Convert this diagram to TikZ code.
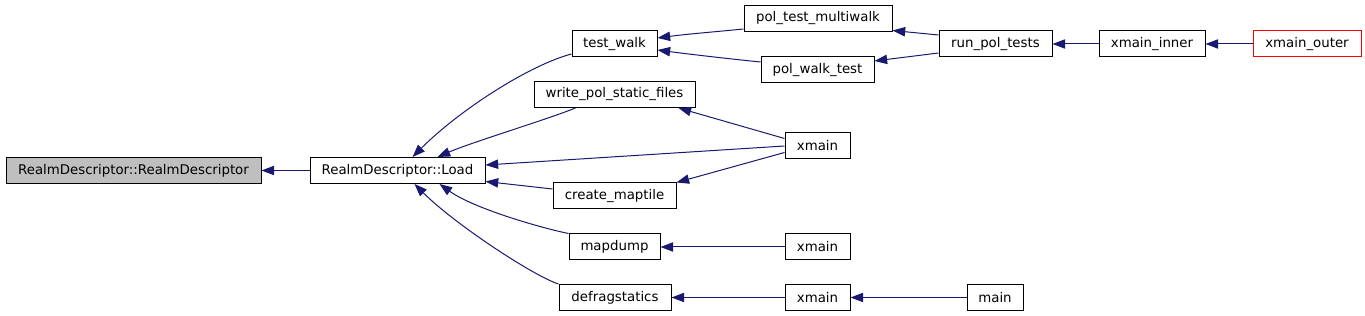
\documentclass[tikz,border=0pt]{standalone}
\usepackage{fontspec}
\setmainfont{DejaVu Sans}
\usetikzlibrary{arrows.meta,calc}
\definecolor{edgeblue}{HTML}{191970}
\definecolor{rootgray}{HTML}{BFBFBF}

\begin{document}
\begin{tikzpicture}[x=0.75pt,y=-0.75pt,
    fn/.style={draw,line width=0.75pt,minimum width=#1*0.75pt,minimum height=19.5pt,
      inner sep=0pt,font=\fontsize{10}{12}\selectfont},
    call/.style={draw=edgeblue,line width=0.75pt,
      -{Triangle[length=9.5pt,width=7pt,color=edgeblue]}}]
  \useasboundingbox (0,0) rectangle (1365,316);
  % functions
  \node[fn=255,fill=rootgray] (rd)   at (133.5,170.5) {RealmDescriptor::RealmDescriptor};
  \node[fn=175]  (load)      at (397.5,170.5) {RealmDescriptor::Load};
  \node[fn=85]   (testwalk)  at (614.5,44)    {test\_walk};
  \node[fn=161]  (writepol)  at (614.5,94.5)  {write\_pol\_static\_files};
  \node[fn=123]  (maptile)   at (614.5,196)   {create\_maptile};
  \node[fn=91]   (mapdump)   at (614.5,247)   {mapdump};
  \node[fn=112]  (defrag)    at (615,297.5)   {defragstatics};
  \node[fn=148]  (multiwalk) at (818,18.5)    {pol\_test\_multiwalk};
  \node[fn=113]  (walktest)  at (817.5,70)    {pol\_walk\_test};
  \node[fn=65]   (xmaina)    at (817.5,145.5) {xmain};
  \node[fn=65]   (xmainb)    at (817.5,247)   {xmain};
  \node[fn=65]   (xmainc)    at (817.5,297.5) {xmain};
  \node[fn=113]  (runpol)    at (995.5,44)    {run\_pol\_tests};
  \node[fn=56]   (main)      at (995,297.5)   {main};
  \node[fn=106]  (inner)     at (1152,44)     {xmain\_inner};
  \node[fn=108,draw=red] (outer) at (1307,44) {xmain\_outer};
  % callers of Load
  \draw[call] (load.west) -- (rd.east);
  \draw[call] ($(testwalk.west)+(0,10)$) .. controls +(-42,11) and +(47,-47) .. ($(load.north)+(15,0)$);
  \draw[call] ($(writepol.south)+(-39,0)$) .. controls +(-30,12) and +(35,-15) .. ($(load.north)+(40,0)$);
  \draw[call] ($(xmaina.west)+(0,0.5)$) -- ($(load.east)+(0,-5.5)$);
  \draw[call] ($(maptile.west)+(0,-7)$) -- ($(load.east)+(0,11)$);
  \draw[call] (mapdump.north west) .. controls +(-25,-5) and +(35,25) .. ($(load.south)+(42,0)$);
  \draw[call] (defrag.north west) .. controls +(-25,-8) and +(40,40) .. ($(load.south)+(17,0)$);
  % second level
  \draw[call] ($(multiwalk.west)+(0,10.5)$) .. controls +(-30,3) and +(30,-4) .. ($(testwalk.east)+(0,-6)$);
  \draw[call] ($(walktest.west)+(0,-8)$) .. controls +(-30,-3) and +(30,4) .. ($(testwalk.east)+(0,6)$);
  \draw[call] ($(xmaina.west)+(0,-7)$) -- ($(writepol.south east)+(-17,0)$);
  \draw[call] ($(xmaina.west)+(0,7)$) -- (maptile.north east);
  \draw[call] (xmainb.west) -- (mapdump.east);
  \draw[call] (xmainc.west) -- (defrag.east);
  % test chain
  \draw[call] ($(runpol.west)+(0,-9)$) -- ($(multiwalk.east)+(0,12)$);
  \draw[call] ($(runpol.west)+(0,9)$) -- ($(walktest.east)+(0,-9)$);
  \draw[call] (inner.west) -- (runpol.east);
  \draw[call] (outer.west) -- (inner.east);
  \draw[call] (main.west) -- (xmainc.east);
\end{tikzpicture}
\end{document}
